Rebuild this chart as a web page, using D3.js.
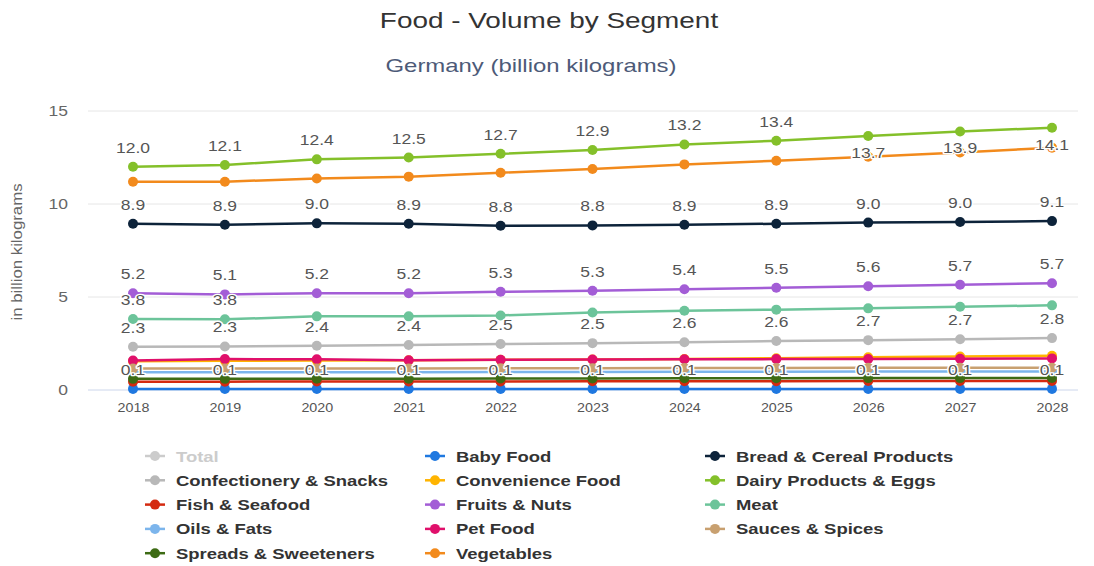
<!DOCTYPE html>
<html>
<head>
<meta charset="utf-8">
<script src="https://cdn.jsdelivr.net/npm/d3@7"></script>
<style>
  body { margin: 0; background: #fff; }
  svg { font-family: "Liberation Sans", Arial, sans-serif; }
</style>
</head>
<body>
<svg width="1094" height="566"></svg>
<script>
const years = [2018, 2019, 2020, 2021, 2022, 2023, 2024, 2025, 2026, 2027, 2028];
const yTicks = [0, 5, 10, 15];

const seriesNames = [
  "Total", "Baby Food", "Bread & Cereal Products", "Confectionery & Snacks",
  "Convenience Food", "Dairy Products & Eggs", "Fish & Seafood", "Fruits & Nuts",
  "Meat", "Oils & Fats", "Pet Food", "Sauces & Spices", "Spreads & Sweeteners", "Vegetables"
];
const seriesColors = [
  "#cccccc", "#1f78e0", "#0d233a", "#b8b8b8",
  "#ffb400", "#84c02a", "#d42a10", "#a35dd6",
  "#6cc49a", "#7cb5ec", "#e0106b", "#c8a070", "#3d6b14", "#f28a1c"
];

const babyFood = [0.06, 0.06, 0.06, 0.06, 0.06, 0.06, 0.06, 0.06, 0.06, 0.06, 0.06];
const bread = [8.94, 8.88, 8.96, 8.94, 8.83, 8.85, 8.88, 8.94, 9.0, 9.03, 9.08];
const confectionery = [2.33, 2.34, 2.38, 2.42, 2.47, 2.52, 2.57, 2.63, 2.68, 2.73, 2.79];
const convenience = [1.55, 1.57, 1.58, 1.6, 1.62, 1.64, 1.67, 1.71, 1.76, 1.8, 1.84];
const dairy = [12.0, 12.1, 12.4, 12.5, 12.7, 12.9, 13.2, 13.4, 13.66, 13.9, 14.1];
const fish = [0.45, 0.45, 0.46, 0.46, 0.46, 0.47, 0.47, 0.47, 0.48, 0.48, 0.48];
const fruits = [5.2, 5.14, 5.2, 5.2, 5.28, 5.34, 5.42, 5.5, 5.58, 5.66, 5.74];
const meat = [3.82, 3.8, 3.96, 3.96, 4.01, 4.17, 4.26, 4.32, 4.39, 4.48, 4.55];
const oils = [0.95, 0.95, 0.96, 0.96, 0.97, 0.97, 0.98, 0.98, 0.99, 0.99, 1.0];
const petFood = [1.58, 1.66, 1.65, 1.6, 1.63, 1.64, 1.65, 1.66, 1.67, 1.68, 1.7];
const sauces = [1.15, 1.15, 1.16, 1.16, 1.17, 1.17, 1.18, 1.18, 1.19, 1.19, 1.2];
const spreads = [0.6, 0.6, 0.61, 0.61, 0.62, 0.62, 0.63, 0.63, 0.64, 0.64, 0.65];
const vegetables = [11.2, 11.2, 11.37, 11.47, 11.68, 11.88, 12.13, 12.33, 12.54, 12.77, 13.03];

const seriesValues = [null, babyFood, bread, confectionery, convenience, dairy, fish,
  fruits, meat, oils, petFood, sauces, spreads, vegetables];

// which series show value labels, and for which years
const labelled = {
  "Baby Food": years, "Bread & Cereal Products": years, "Confectionery & Snacks": years,
  "Dairy Products & Eggs": years, "Fruits & Nuts": years, "Meat": [2018, 2019]
};
const labelsBelow = { "Dairy Products & Eggs": [2026, 2027, 2028] };

const svg = d3.select("svg");
const plotLeft = 88, plotRight = 1078, plotTop = 111, plotBottom = 390;
const wide = 1.25; // the source font runs wider than Liberation Sans

const x = d3.scalePoint().domain(years).range([133, 1052]);
const y = d3.scaleLinear().domain([0, 15]).range([plotBottom, plotTop]);

// text placed at (tx, ty) and stretched horizontally
function wideText(parent, tx, ty, sx) {
  return parent.append("text").attr("transform", `translate(${tx},${ty}) scale(${sx},1)`);
}

wideText(svg, 549, 28, 1.27).attr("text-anchor", "middle")
  .attr("font-size", 22).attr("fill", "#333").text("Food - Volume by Segment");
wideText(svg, 531, 72, 1.33).attr("text-anchor", "middle")
  .attr("font-size", 18).attr("fill", "#4d5a78").text("Germany (billion kilograms)");

// grid
svg.append("g").selectAll("line").data(yTicks).join("line")
  .attr("x1", plotLeft).attr("x2", plotRight)
  .attr("y1", d => y(d)).attr("y2", d => y(d))
  .attr("stroke", d => d === 0 ? "#ccd6eb" : "#e6e6e6").attr("stroke-width", 1);

const yAxis = svg.append("g").attr("transform", `translate(${plotLeft},0)`)
  .call(d3.axisLeft(y).tickValues(yTicks).tickSize(0).tickPadding(20));
yAxis.select(".domain").remove();
yAxis.selectAll("text").attr("font-size", 14).attr("fill", "#666")
  .attr("font-family", "Liberation Sans, Arial, sans-serif")
  .attr("x", 0).attr("transform", `translate(-20,0) scale(${wide},1)`);

const xAxis = svg.append("g").attr("transform", `translate(0,${plotBottom})`)
  .call(d3.axisBottom(x).tickSize(0).tickPadding(13).tickFormat(d3.format("d")));
xAxis.select(".domain").remove();
xAxis.selectAll("text").attr("font-size", 13).attr("fill", "#555")
  .attr("font-family", "Liberation Sans, Arial, sans-serif")
  .attr("transform", "scale(1.1,1)");

svg.append("text").attr("transform", "translate(22,252) rotate(-90) scale(1.2,1)")
  .attr("text-anchor", "middle").attr("font-size", 14).attr("fill", "#666")
  .text("in billion kilograms");

const line = d3.line().x((d, i) => x(years[i])).y(d => y(d));

const series = seriesNames.map((name, i) => ({ name, color: seriesColors[i], values: seriesValues[i] }))
  .filter(s => s.values);

const plot = svg.append("g");
series.forEach(s => {
  const g = plot.append("g");
  g.append("path").attr("d", line(s.values)).attr("fill", "none")
    .attr("stroke", s.color).attr("stroke-width", 2.5);
  g.selectAll("circle").data(s.values).join("circle")
    .attr("cx", (d, i) => x(years[i])).attr("cy", d => y(d)).attr("r", 5)
    .attr("fill", s.color);
});

// value labels
const labelG = svg.append("g");
series.forEach(s => {
  const yrs = labelled[s.name];
  if (!yrs) return;
  const below = labelsBelow[s.name] || [];
  s.values.forEach((v, i) => {
    if (!yrs.includes(years[i])) return;
    const ly = below.includes(years[i]) ? y(v) + 22 : y(v) - 14;
    wideText(labelG, x(years[i]), ly, wide)
      .attr("text-anchor", "middle").attr("font-size", 14).attr("fill", "#555")
      .attr("stroke", "#fff").attr("stroke-width", 2.5).attr("paint-order", "stroke")
      .attr("stroke-linejoin", "round")
      .text(d3.format(".1f")(v));
  });
});

// legend
const legend = svg.append("g");
seriesNames.forEach((name, i) => {
  const col = i % 3, row = Math.floor(i / 3);
  const lx = 145 + col * 280, ly = 456 + row * 24.3;
  const hidden = name === "Total";
  const c = hidden ? "#cccccc" : seriesColors[i];
  const g = legend.append("g").attr("transform", `translate(${lx},${ly})`);
  g.append("line").attr("x1", 0).attr("x2", 20).attr("stroke", c).attr("stroke-width", 2.5);
  g.append("circle").attr("cx", 10).attr("r", 5).attr("fill", c);
  wideText(g, 31, 5.5, 1.23).attr("font-size", 15).attr("font-weight", "bold")
    .attr("fill", hidden ? "#cccccc" : "#333").text(name);
});
</script>
</body>
</html>
